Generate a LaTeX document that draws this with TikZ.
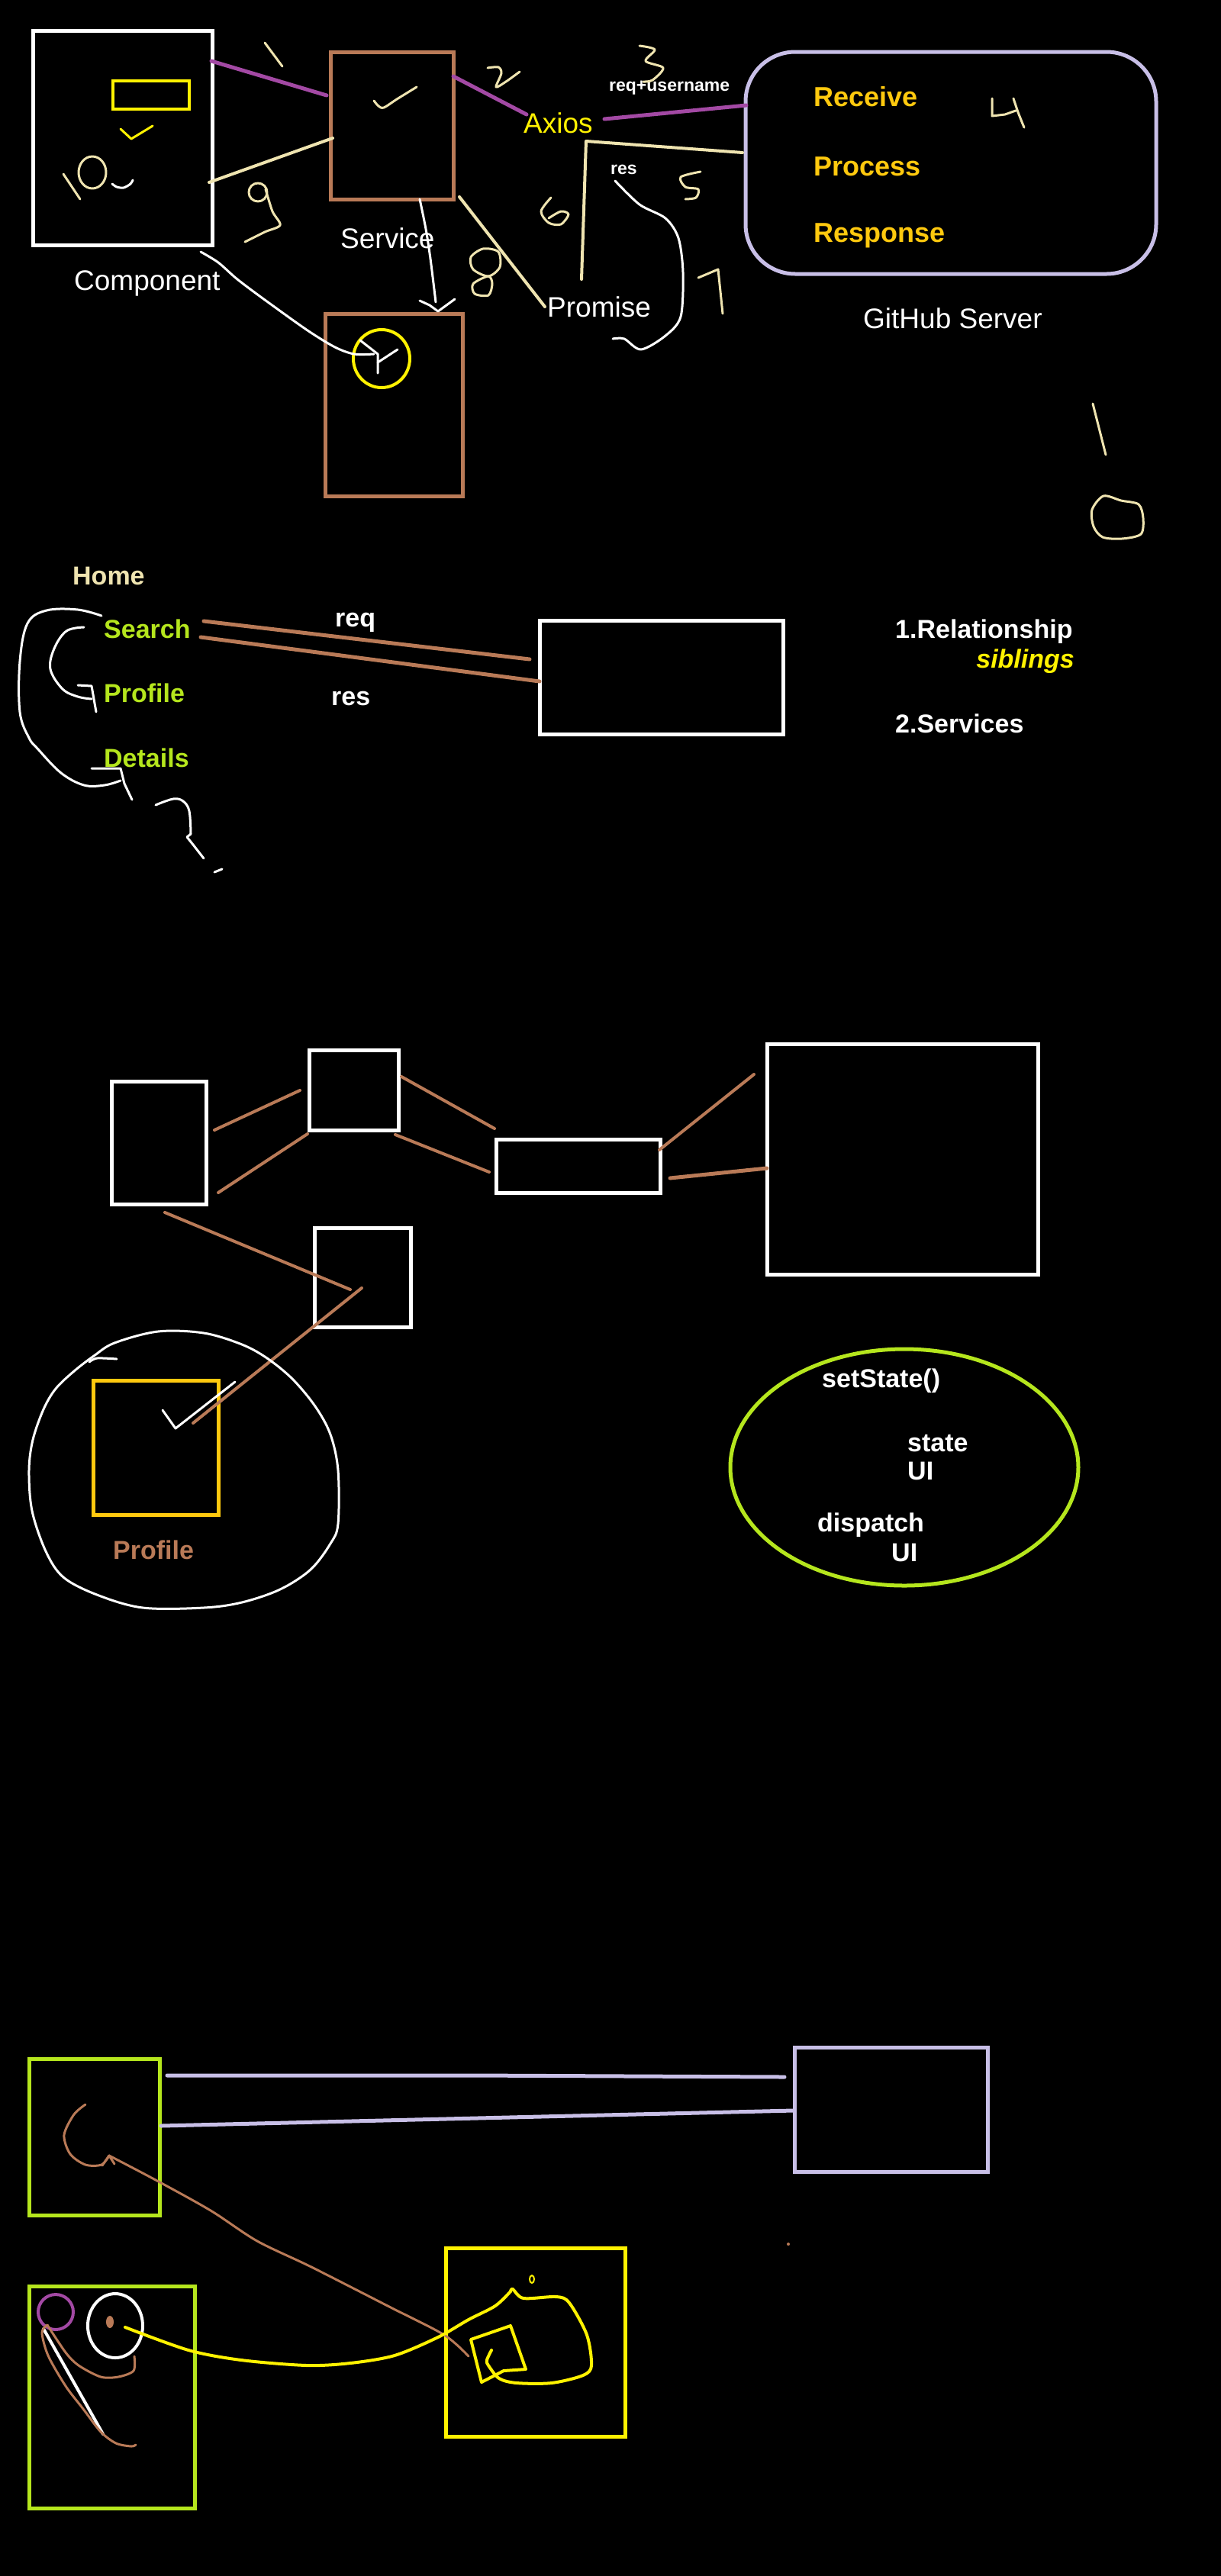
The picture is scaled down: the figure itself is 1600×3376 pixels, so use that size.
\documentclass[tikz,border=0pt]{standalone}
\usepackage{fontspec}
\setmainfont{Liberation Sans}
\usetikzlibrary{calc,shapes.geometric}
\definecolor{cream}{HTML}{EFE4B0}
\definecolor{purp}{HTML}{A349A4}
\definecolor{brn}{HTML}{B97A57}
\definecolor{yel}{HTML}{FFF200}
\definecolor{gold}{HTML}{FFC90E}
\definecolor{lav}{HTML}{C8BFE7}
\definecolor{lime}{HTML}{B5E61D}
\newcommand{\fR}{\fontsize{37}{44}\selectfont}
\newcommand{\fB}{\fontsize{34}{40}\selectfont\bfseries}
\newcommand{\fG}{\fontsize{36}{42}\selectfont\bfseries}
\newcommand{\fS}{\fontsize{23}{28}\selectfont\bfseries}
\tikzset{
  bx/.style={draw, rectangle, line width=5pt, inner sep=0pt},
  hand/.style={line width=3pt, line cap=round, line join=round},
  thick line/.style={line width=5pt, line cap=round},
  lbl/.style={anchor=west, inner sep=0pt, text=white},
}
\begin{document}
\begin{tikzpicture}[x=1pt,y=-1pt]
\fill[black] (0,0) rectangle (1600,3376);
\useasboundingbox (0,0) rectangle (1600,3376);

% ================= Section 1 =================
\node[bx, draw=white, minimum width=235pt, minimum height=281pt] (comp) at (160.5,180.5) {};
\node[bx, draw=yel, line width=4pt, minimum width=100pt, minimum height=37pt] (compin) at (198,124.5) {};
\node[bx, draw=brn, minimum width=161pt, minimum height=193pt] (serv) at (513.5,164.5) {};
\node[bx, draw=brn, minimum width=180pt, minimum height=239pt] (low) at (516,530.5) {};
\node[draw=yel, line width=4pt, ellipse, inner sep=0pt, minimum width=74pt, minimum height=76pt] (ycirc) at (500,470) {};
\node[bx, draw=lav, rounded corners=65pt, minimum width=538pt, minimum height=291pt] (gh) at (1246,213.5) {};

\node[lbl] (tcomp) at (97,371) {\fR Component};
\node[lbl] (tserv) at (446,312) {\fR Service};
\node[lbl, text=yel] (axios) at (686,161) {\fR Axios};
\node[lbl] (prom) at (717,402) {\fR Promise};
\node[lbl] (ghs) at (1131,417) {\fR GitHub Server};
\node[lbl, text=gold] (rcv) at (1066,127) {\fG Receive};
\node[lbl, text=gold] (prc) at (1066,218) {\fG Process};
\node[lbl, text=gold] (rsp) at (1066,309) {\fG Response};
\node[lbl] (rqu) at (798,115) {\fS req+username};
\node[lbl] (res1) at (800,222) {\fS res};

% connectors
\draw[thick line, purp] (277,80) -- (428,125);
\draw[thick line, cream, line width=4pt] (274,239) -- (436,181);
\draw[thick line, purp] (594,100) -- (690,150);
\draw[thick line, purp] (792,156) -- (978,138);
\draw[hand, cream, line width=4pt] (762,366) -- (768,185) -- (973,200);
\draw[hand, cream, line width=4pt] (602,258) -- (714,402);
% white arrow service -> lower box
\draw[hand, white] plot[smooth] coordinates {(550,261) (558,300) (564,339) (571,396)};
\draw[hand, white] (550,394) -- (563,400) -- (574,408) -- (596,392);
% white curve component -> circle
\draw[hand, white] plot[smooth, tension=0.5] coordinates {(263,330) (286,344) (311,366) (347,393) (403,433) (439,455) (464,464) (490,464)};
\draw[hand, white] (472,446) -- (495,464) -- (495,489);
\draw[hand, white] (495,475) -- (521,458);
% checks
\draw[hand, yel] (158,169) -- (172,182) -- (200,165);
\draw[hand, cream] plot[smooth] coordinates {(490,132) (496,139) (503,141) (520,130) (546,114)};
\draw[hand, white] plot[smooth] coordinates {(147,241) (153,245) (162,246) (171,241) (174,236)};
% digits
\draw[hand, cream] (83,228) -- (105,261);
\draw[hand, cream] (121,226) ellipse [x radius=18, y radius=21];
\draw[hand, cream] (347,56) -- (370,87);
\draw[hand, cream] plot[smooth] coordinates {(639,89) (653,88) (657,96) (650,114) (663,107) (681,94)};
\draw[hand, cream] plot[smooth] coordinates {(838,60) (858,65) (846,80) (869,89) (855,105) (843,107)};
\draw[hand, cream] (1300,129) -- (1300,152) -- (1317,150) -- (1331,145);
\draw[hand, cream] plot[smooth] coordinates {(1328,129) (1334,147) (1342,167)};
\draw[hand, cream] plot[smooth] coordinates {(918,225) (892,232) (898,245) (915,248) (912,259) (898,261)};
\draw[hand, cream] plot[smooth] coordinates {(722,259) (709,277) (719,292) (735,294) (745,281) (735,277) (719,286)};
\draw[hand, cream] (915,364) -- (941,353) -- (947,411);
\draw[hand, cream] plot[smooth cycle] coordinates {(640,362) (655,350) (653,330) (633,326) (617,337) (620,353)};
\draw[hand, cream] plot[smooth cycle] coordinates {(640,362) (620,372) (622,385) (640,387) (645,372)};
\draw[hand, cream] (338,252) circle (12);
\draw[hand, cream] plot[smooth] coordinates {(348,248) (357,277) (367,295) (347,304) (321,317)};
% white brace near res
\draw[hand, white] plot[smooth] coordinates {(806,237) (838,268) (872,286) (889,312) (895,357) (892,415) (872,440) (840,458) (818,444) (803,444)};
% far right 1 and 0
\draw[hand, cream] (1432,529) -- (1449,596);
\draw[hand, cream] plot[smooth cycle] coordinates {(1446,650) (1469,656) (1492,661) (1498,679) (1495,700) (1470,706) (1445,704) (1433,690) (1431,668)};

% ================= Section 2 =================
\node[lbl, text=cream] (home) at (95,755) {\fB Home};
\node[lbl, text=lime] (search) at (136,824) {\fB Search};
\node[lbl, text=lime] (prof) at (136,908) {\fB Profile};
\node[lbl, text=lime] (det) at (136,993) {\fB Details};
\node[lbl] (req2) at (439,816) {\fB req};
\node[lbl] (res2) at (434,915) {\fB res};
\node[bx, draw=white, minimum width=319pt, minimum height=149pt] (sbox) at (866.5,887.5) {};
\node[lbl] (rel) at (1173,828) {\fB 1.Relationship};
\node[anchor=east, inner sep=0pt, text=yel] (sib) at (1408,867) {\fB\itshape siblings};
\node[lbl] (svc) at (1173,948) {\fB 2.Services};
\draw[thick line, brn] (267,814) -- (694,864);
\draw[thick line, brn] (263,835) -- (707,893);
\draw[hand, white] plot[smooth, tension=0.6] coordinates {(133,807) (102,799) (61,800) (36,817) (26,867) (26,933) (38,967) (50,982) (80,1013) (110,1029) (137,1029) (158,1023)};
\draw[hand, white] plot[smooth, tension=0.6] coordinates {(110,822) (87,827) (71,850) (66,877) (82,903) (102,913) (120,916)};
\draw[hand, white] (102,898) -- (120,899) -- (126,933);
\draw[hand, white] (120,1007) -- (158,1007) -- (163,1027) -- (173,1048);
\draw[hand, white] plot[smooth, tension=0.6] coordinates {(204,1055) (227,1047) (240,1050) (248,1063) (250,1093)};
\draw[hand, white] (250,1093) -- (245,1097) -- (253,1107) -- (267,1125);
\draw[hand, white] (281,1143) -- (291,1139);

% ================= Section 3 =================
\node[bx, draw=white, minimum width=124pt, minimum height=161pt] (ba) at (208,1497.5) {};
\node[bx, draw=white, minimum width=117pt, minimum height=105pt] (bb) at (463.5,1428.5) {};
\node[bx, draw=white, minimum width=215pt, minimum height=70pt] (bc) at (757.5,1528) {};
\node[bx, draw=white, minimum width=355pt, minimum height=302pt] (bd) at (1182.5,1519) {};
\node[bx, draw=white, minimum width=126pt, minimum height=130pt] (be) at (475,1674) {};
\node[bx, draw=gold, minimum width=164pt, minimum height=176pt] (pbox) at (204,1897) {};
\node[lbl, text=brn] (ptxt) at (148,2031) {\fB Profile};
\draw[hand, brn, line width=4pt] (281,1481) -- (393,1429);
\draw[hand, brn, line width=4pt] (286,1563) -- (403,1486);
\draw[hand, brn, line width=4pt] (526,1411) -- (648,1479);
\draw[hand, brn, line width=4pt] (518,1487) -- (641,1536);
\draw[hand, brn, line width=4pt] (864,1507) -- (988,1408);
\draw[hand, brn, line width=5pt] (878,1544) -- (1005,1531);
\draw[hand, brn, line width=4pt] (216,1589) -- (459,1690);
\draw[hand, brn, line width=4pt] (474,1688) -- (253,1865);
\draw[hand, white] (213,1848) -- (230,1872) -- (308,1811);
\draw[hand, white] plot[smooth] coordinates {(117,1785) (127,1780) (153,1781)};
\draw[hand, white] plot[smooth cycle, tension=0.55] coordinates {(207,1745) (267,1747) (317,1762) (350,1780) (383,1807) (413,1843) (433,1880) (443,1927) (443,1997) (433,2023) (407,2057) (367,2083) (317,2100) (267,2107) (187,2107) (127,2090) (83,2067) (60,2033) (42,1980) (38,1927) (43,1887) (57,1847) (73,1820) (97,1797) (123,1777) (150,1760)};
\node[draw=lime, line width=5pt, ellipse, inner sep=0pt, minimum width=456pt, minimum height=310pt] (gell) at (1185,1923) {};
\node[lbl] (sst) at (1077,1810) {\fB setState()};
\node[lbl] (st) at (1189,1892) {\fB state};
\node[lbl] (ui1) at (1189,1928) {\fB UI};
\node[lbl] (dsp) at (1071,1999) {\fB dispatch};
\node[lbl] (ui2) at (1168,2035) {\fB UI};

% ================= Section 4 =================
\node[bx, draw=lime, minimum width=171pt, minimum height=205pt] (g1) at (123.5,2800.5) {};
\node[bx, draw=lav, minimum width=253pt, minimum height=163pt] (lv) at (1167.5,2764.5) {};
\node[bx, draw=lime, minimum width=217pt, minimum height=291pt] (g2) at (146.5,3141.5) {};
\node[bx, draw=yel, minimum width=235pt, minimum height=247pt] (yb) at (701.5,3069.5) {};
\draw[thick line, lav] (219,2720) -- (622,2720) -- (1028,2722);
\draw[thick line, lav] (211,2786) -- (1039,2766);
\draw[hand, brn] plot[smooth] coordinates {(112,2758) (97,2771) (84,2798) (92,2823) (112,2837) (133,2837) (143,2825)};
\draw[hand, brn] (134,2838) -- (143,2825) -- (150,2836);
\draw[hand, brn] plot[smooth] coordinates {(143,2825) (204,2857) (276,2897) (337,2937) (408,2971) (510,3023) (582,3060) (614,3088)};
\draw[hand, purp, line width=4pt] (73,3030) ellipse [x radius=23, y radius=23];
\draw[hand, white, line width=4pt] (151,3048) ellipse [x radius=36, y radius=42];
\fill[brn] (144,3043) ellipse [x radius=5, y radius=8];
\draw[hand, brn] plot[smooth] coordinates {(62,3047) (86,3083) (103,3100) (132,3115) (155,3115) (175,3107) (176,3088)};
\draw[hand, white, line width=4pt] (57,3052) -- (135,3190);
\draw[hand, brn] plot[smooth] coordinates {(62,3047) (55,3057) (63,3087) (86,3127) (109,3157) (132,3187) (152,3202) (172,3206) (178,3204)};
\draw[hand, yel, line width=4pt] plot[smooth, tension=0.5] coordinates {(164,3050) (247,3080) (316,3093) (402,3100) (459,3097) (517,3087) (574,3063) (614,3040) (649,3022) (669,3003)};
\draw[hand, yel, line width=4pt] plot[smooth, tension=0.5] coordinates {(669,3003) (672,3000) (686,3012) (729,3010) (746,3018) (769,3060) (775,3100) (764,3113) (723,3123) (677,3123) (654,3117) (640,3100) (638,3093) (644,3080)};
\draw[hand, yel, line width=4pt] (617,3066) -- (669,3048) -- (689,3105) -- (660,3107) -- (631,3122) -- cycle;
\draw[hand, yel, line width=2pt] (697,2987) ellipse [x radius=3, y radius=5];
\fill[brn] (1033,2941) circle (2);
\end{tikzpicture}
\end{document}
